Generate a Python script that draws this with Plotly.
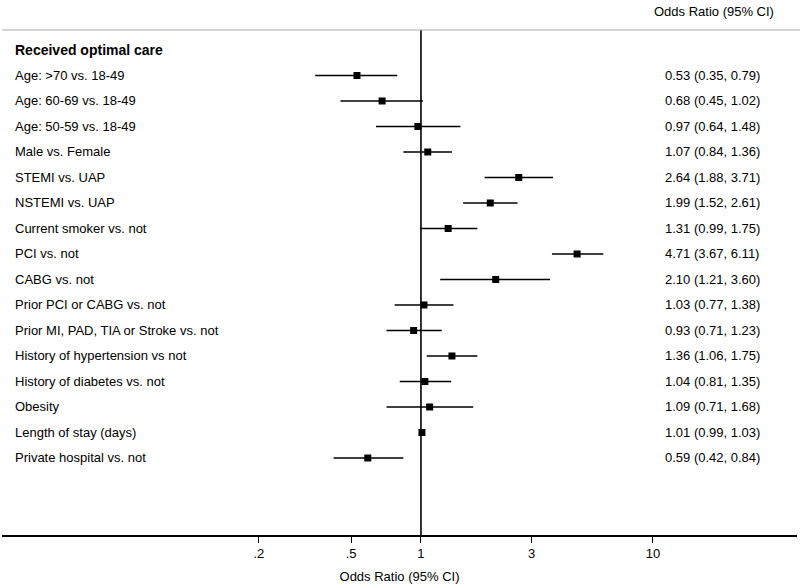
import plotly.graph_objects as go

header = "Received optimal care"
labels = [
    "Age: >70 vs. 18-49",
    "Age: 60-69 vs. 18-49",
    "Age: 50-59 vs. 18-49",
    "Male vs. Female",
    "STEMI vs. UAP",
    "NSTEMI vs. UAP",
    "Current smoker vs. not",
    "PCI vs. not",
    "CABG vs. not",
    "Prior PCI or CABG vs. not",
    "Prior MI, PAD, TIA or Stroke vs. not",
    "History of hypertension vs not",
    "History of diabetes vs. not",
    "Obesity",
    "Length of stay (days)",
    "Private hospital vs. not",
]
odds = [0.53, 0.68, 0.97, 1.07, 2.64, 1.99, 1.31, 4.71, 2.10, 1.03, 0.93, 1.36, 1.04, 1.09, 1.01, 0.59]
ci_low = [0.35, 0.45, 0.64, 0.84, 1.88, 1.52, 0.99, 3.67, 1.21, 0.77, 0.71, 1.06, 0.81, 0.71, 0.99, 0.42]
ci_high = [0.79, 1.02, 1.48, 1.36, 3.71, 2.61, 1.75, 6.11, 3.60, 1.38, 1.23, 1.75, 1.35, 1.68, 1.03, 0.84]
tick_vals = [0.2, 0.5, 1, 3, 10]
tick_text = [".2", ".5", "1", "3", "10"]
axis_title = "Odds Ratio (95% CI)"
col_title = "Odds Ratio (95% CI)"

rows = list(range(len(labels)))
FONT = "Liberation Sans, Arial, sans-serif"

fig = go.Figure()
# CI lines
xs, ys = [], []
for i, lo, hi in zip(rows, ci_low, ci_high):
    xs += [lo, hi, None]
    ys += [i, i, None]
fig.add_trace(go.Scatter(x=xs, y=ys, mode="lines", line=dict(color="black", width=1.6),
                         hoverinfo="skip", showlegend=False))
fig.add_trace(go.Scatter(x=odds, y=rows, mode="markers",
                         marker=dict(symbol="square", size=7, color="black"),
                         showlegend=False))

annotations = []
annotations.append(dict(x=0.0138, y=-1, xref="paper", yref="y", text="<b>" + header + "</b>",
                        showarrow=False, xanchor="left", yanchor="middle",
                        font=dict(family=FONT, size=14, color="black")))
for i, lab, o, lo, hi in zip(rows, labels, odds, ci_low, ci_high):
    annotations.append(dict(x=0.0138, y=i, xref="paper", yref="y", text=lab,
                            showarrow=False, xanchor="left", yanchor="middle",
                            font=dict(family=FONT, size=13, color="black")))
    annotations.append(dict(x=0.831, y=i, xref="paper", yref="y",
                            text=f"{o:.2f} ({lo:.2f}, {hi:.2f})",
                            showarrow=False, xanchor="left", yanchor="middle",
                            font=dict(family=FONT, size=13, color="black")))
annotations.append(dict(x=0.896, y=1.036, xref="paper", yref="paper", text=col_title,
                        showarrow=False, xanchor="center", yanchor="middle",
                        font=dict(family=FONT, size=13, color="black")))

shapes = [
    dict(type="line", xref="x", yref="paper", x0=1, x1=1, y0=0, y1=1,
         line=dict(color="black", width=1.6)),
    dict(type="line", xref="paper", yref="paper", x0=0.0, x1=1.004, y0=1, y1=1,
         line=dict(color="#a8a8a8", width=1.2)),
]

fig.update_layout(
    width=800, height=587,
    margin=dict(l=2, r=3, t=30, b=52),
    paper_bgcolor="white", plot_bgcolor="white",
    font=dict(family=FONT, size=13, color="black"),
    annotations=annotations, shapes=shapes,
    xaxis=dict(type="log", range=[-1.806, 1.621], tickvals=tick_vals, ticktext=tick_text,
               showgrid=False, zeroline=False, showline=True, linecolor="black", linewidth=1.6,
               ticks="outside", ticklen=6, tickwidth=1.4, tickcolor="black",
               tickfont=dict(family=FONT, size=13, color="black"),
               title=dict(text=axis_title, font=dict(family=FONT, size=13, color="black"), standoff=11)),
    yaxis=dict(range=[18.02, -1.784], visible=False, showgrid=False, zeroline=False),
)

fig.write_html("out.html", config={"displayModeBar": False},
               post_script="document.body.style.margin='0';")
